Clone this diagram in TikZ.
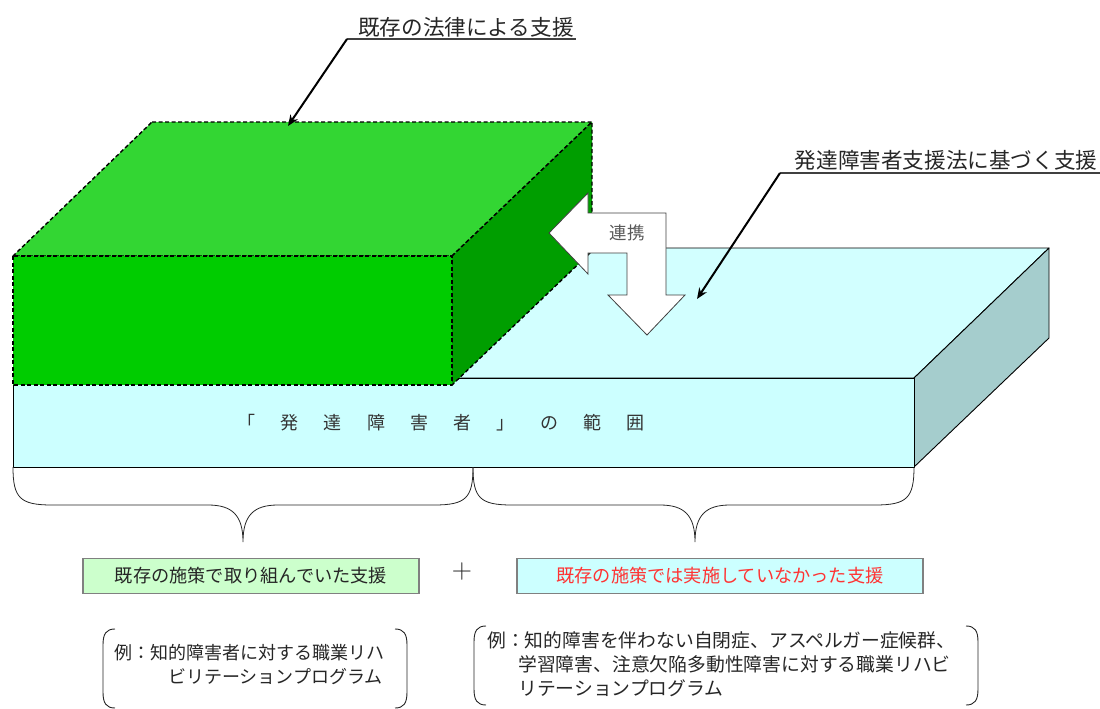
\documentclass[tikz,border=0pt]{standalone}
\usepackage{fontspec}
\newfontfamily\jp{Noto Sans CJK JP}
\usetikzlibrary{arrows.meta}
\definecolor{cyTop}{HTML}{D2FFFF}
\definecolor{cyFront}{HTML}{CCFFFF}
\definecolor{cySide}{HTML}{A5CDCD}
\definecolor{grTop}{HTML}{33D633}
\definecolor{grFront}{HTML}{00CC00}
\definecolor{grSide}{HTML}{009E00}
\definecolor{boxG}{HTML}{CCFFCC}
\definecolor{boxC}{HTML}{CCFFFF}
\definecolor{redtxt}{HTML}{FF3333}
\definecolor{txt}{HTML}{262626}
\newcommand{\gap}{\hspace{25.3pt}}
\begin{document}
\begin{tikzpicture}[x=1pt,y=-1pt,
  slabedge/.style={draw=black,line width=0.9pt,line join=round},
  greenedge/.style={draw=black,line width=1.4pt,dash pattern=on 4pt off 2.5pt,line join=round},
  callout/.style={line width=2pt,-{Stealth[length=11pt,width=9pt]}},
  underl/.style={line width=1.2pt,draw=black!75},
  labeltxt/.style={font=\jp\fontsize{21.6}{24}\selectfont,text=txt,inner sep=2pt},
  smalltxt/.style={font=\jp\fontsize{18}{22}\selectfont,text=txt,inner sep=0pt},
  boxtxt/.style={draw=gray,line width=1.6pt,minimum height=35pt,inner sep=0pt,font=\jp\fontsize{18.2}{22}\selectfont},
  brace/.style={line width=0.8pt,draw=black!85},
  paren/.style={line width=0.9pt,draw=black!85},
  bigarrow/.style={fill=white,draw=black!75,line width=0.8pt,line join=miter}]
\useasboundingbox (0,0) rectangle (1100,709);
% ---- cyan slab
\fill[cyTop,slabedge] (148,248) -- (1049,248) -- (914,378) -- (13,378) -- cycle;
\fill[cySide,slabedge] (914,378) -- (1049,248) -- (1049,338) -- (914,467) -- cycle;
\fill[cyFront,slabedge] (13,378) rectangle (914,467);
\node[smalltxt,font=\jp\fontsize{18}{22}\selectfont,text=black!80] (range) at (441,423)
  {「\gap 発\gap 達\gap 障\gap 害\gap 者\gap 」\gap の\gap 範\gap 囲};
% ---- green box
\fill[grTop,greenedge] (152,122) -- (592,122) -- (452,256) -- (13,256) -- cycle;
\fill[grSide,greenedge] (452,256) -- (592,122) -- (592,251) -- (452,385) -- cycle;
\fill[grFront,greenedge] (13,256) rectangle (452,385);
% ---- cooperation arrow
\draw[bigarrow] (549,233) -- (588,193) -- (588,213) -- (666,213) -- (666,295) -- (685,295)
  -- (647,335) -- (608,295) -- (627,295) -- (627,253) -- (588,253) -- (588,274) -- cycle;
\node[font=\jp\fontsize{17.5}{20}\selectfont,text=black!65] (renkei) at (627,233) {連携};
% ---- callouts
\node[labeltxt,anchor=south] (lab1) at (466,39) {既存の法律による支援};
\coordinate (u1) at (347,39);
\coordinate (t1) at (288,126);
\draw[underl] (lab1.south east) -- (u1);
\draw[callout] (u1) -- (t1);
\node[labeltxt,anchor=south] (lab2) at (946,173) {発達障害者支援法に基づく支援};
\coordinate (u2) at (780,173);
\coordinate (e2) at (1100,173);
\coordinate (t2) at (697,299);
\draw[underl] (e2) -- (u2);
\draw[callout] (u2) -- (t2);
% ---- braces
\draw[brace] (13,467) .. controls (13,498) and (20,505) .. (52,505) -- (208,505)
  .. controls (232,505) and (243,515) .. (243,542)
  .. controls (243,515) and (254,505) .. (278,505) -- (434,505)
  .. controls (466,505) and (473,498) .. (473,467);
\draw[brace] (473,467) .. controls (473,498) and (480,505) .. (512,505) -- (660,505)
  .. controls (684,505) and (695,515) .. (695,542)
  .. controls (695,515) and (706,505) .. (730,505) -- (875,505)
  .. controls (907,505) and (914,498) .. (914,467);
% ---- category boxes
\node[boxtxt,fill=boxG,minimum width=336pt,text=txt] (known) at (251,576) {既存の施策で取り組んでいた支援};
\node[font=\fontsize{28}{28}\selectfont,text=txt,inner sep=0pt] (plus) at (462,572) {+};
\node[boxtxt,fill=boxC,minimum width=406pt,text=redtxt] (newsup) at (720,576) {既存の施策では実施していなかった支援};
% ---- examples
\draw[paren] (115,629) .. controls (106,629) and (103,634) .. (103,645) -- (103,692) .. controls (103,703) and (106,708) .. (115,708);
\draw[paren] (395,629) .. controls (404,629) and (407,634) .. (407,645) -- (407,692) .. controls (407,703) and (404,708) .. (395,708);
\node[smalltxt,anchor=west] (ex1a) at (114,653) {例：知的障害者に対する職業リハ};
\node[smalltxt,anchor=west] (ex1b) at (168,677) {ビリテーションプログラム};
\draw[paren] (486,626) .. controls (477,626) and (474,631) .. (474,642) -- (474,689) .. controls (474,700) and (477,705) .. (486,705);
\draw[paren] (966,626) .. controls (975,626) and (978,631) .. (978,642) -- (978,689) .. controls (978,700) and (975,705) .. (966,705);
\node[smalltxt,anchor=west,font=\jp\fontsize{18.8}{22}\selectfont] (ex2a) at (487,640) {例：知的障害を伴わない自閉症、アスペルガー症候群、};
\node[smalltxt,anchor=west,font=\jp\fontsize{18.8}{22}\selectfont] (ex2b) at (518,664) {学習障害、注意欠陥多動性障害に対する職業リハビ};
\node[smalltxt,anchor=west,font=\jp\fontsize{18.8}{22}\selectfont] (ex2c) at (518,688) {リテーションプログラム};
\end{tikzpicture}
\end{document}
